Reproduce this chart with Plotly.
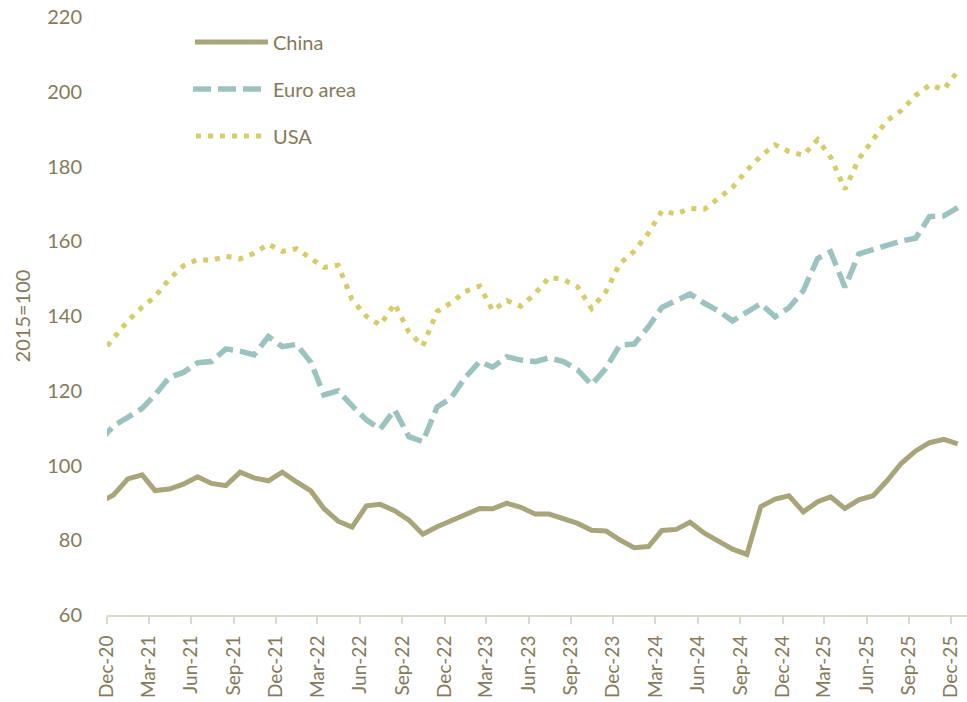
import pandas as pd
import plotly.graph_objects as go

# Monthly observations, Nov-20 .. Dec-25 (2015=100)
months = pd.date_range("2020-11-01", "2025-12-01", freq="MS")
china = [90.1,
         92.1, 96.4, 97.5, 93.3, 93.7, 95.0, 97.0, 95.2, 94.6, 98.2, 96.7, 95.9,
         98.2, 95.6, 93.2, 88.5, 85.1, 83.5, 89.2, 89.6, 87.9, 85.4, 81.6, 83.6,
         85.2, 87.0, 88.5, 88.4, 89.9, 88.8, 87.0, 87.0, 85.9, 84.5, 82.7, 82.5,
         80.1, 78.0, 78.3, 82.6, 82.9, 84.8, 81.9, 79.8, 77.6, 76.2, 89.0, 91.0,
         91.9, 87.6, 90.3, 91.6, 88.5, 90.8, 91.9, 95.9, 100.6, 103.9, 106.1, 107.0,
         105.8]
euro_area = [106.5,
             110.6, 112.9, 115.3, 118.9, 123.6, 124.9, 127.5, 127.8, 131.2, 130.6, 129.6, 134.5,
             131.8, 132.4, 127.6, 118.9, 120.0, 116.0, 112.2, 109.7, 114.9, 107.7, 106.4, 115.7,
             118.0, 123.6, 127.8, 126.3, 129.1, 128.2, 127.8, 128.8, 127.8, 125.6, 121.6, 126.0,
             132.2, 132.5, 137.1, 142.3, 144.1, 145.9, 143.4, 141.4, 138.7, 141.1, 143.3, 139.8,
             142.2, 146.8, 155.4, 157.2, 147.7, 156.6, 157.8, 158.8, 160.1, 160.8, 166.6, 166.8,
             169.0]
usa = [129.5,
       134.2, 138.7, 142.4, 145.2, 149.9, 153.4, 155.1, 154.9, 156.0, 155.3, 156.8, 159.2,
       157.3, 158.0, 155.4, 153.0, 153.6, 144.4, 139.9, 137.6, 143.3, 135.7, 132.0, 141.2,
       143.5, 146.6, 148.0, 141.5, 144.1, 142.6, 146.0, 150.3, 149.8, 147.8, 142.0, 146.5,
       154.0, 157.3, 162.2, 168.1, 167.3, 168.8, 168.6, 171.6, 174.4, 179.0, 182.8, 185.8,
       184.0, 183.0, 187.2, 182.5, 173.9, 182.0, 187.2, 192.3, 195.0, 199.0, 201.8, 200.6,
       205.5]
tick_labels = ["Dec-20", "Mar-21", "Jun-21", "Sep-21", "Dec-21", "Mar-22", "Jun-22",
               "Sep-22", "Dec-22", "Mar-23", "Jun-23", "Sep-23", "Dec-23", "Mar-24",
               "Jun-24", "Sep-24", "Dec-24", "Mar-25", "Jun-25", "Sep-25", "Dec-25"]
y_ticks = [60, 80, 100, 120, 140, 160, 180, 200, 220]

TEXT = "#857A5A"
C_CHINA = "#A9A57B"
C_EURO = "#9DC3C1"
C_USA = "#D6CC6A"
FONT = "Lato"

x = months + pd.Timedelta(days=14)  # mid-month positions
tickvals = pd.date_range("2020-12-01", "2025-12-01", freq="3MS")

fig = go.Figure()
fig.add_trace(go.Scatter(x=x, y=usa, mode="lines", name="USA",
                         line=dict(color=C_USA, width=5, dash="5px,7px")))
fig.add_trace(go.Scatter(x=x, y=euro_area, mode="lines", name="Euro area",
                         line=dict(color=C_EURO, width=5.5, dash="18px,7px")))
fig.add_trace(go.Scatter(x=x, y=china, mode="lines", name="China",
                         line=dict(color=C_CHINA, width=5)))

# Manual legend (long line samples like the original)
L, W, T, H = 107, 860, 17, 598
def px(v):
    return (v - L) / W
def py(v):
    return (T + H - v) / H
legend_items = [("China", C_CHINA, "solid", 5, 42, 195, 268),
                ("Euro area", C_EURO, "18px,7px", 5.5, 89, 193, 262),
                ("USA", C_USA, "5px,7px", 5, 136, 196, 262)]
for name, col, dash, w, yy, x0, x1 in legend_items:
    fig.add_shape(type="line", xref="paper", yref="paper",
                  x0=px(x0), x1=px(x1), y0=py(yy), y1=py(yy),
                  line=dict(color=col, width=w, dash=dash))
    fig.add_annotation(xref="paper", yref="paper", x=px(271), y=py(yy),
                       text=name, showarrow=False, xanchor="left", yanchor="middle",
                       font=dict(family=FONT, size=20, color=TEXT))

fig.update_layout(
    width=967, height=702,
    margin=dict(l=L, r=0, t=T, b=702 - T - H, autoexpand=False),
    paper_bgcolor="white", plot_bgcolor="white",
    showlegend=False,
    font=dict(family=FONT, size=20, color=TEXT),
)
fig.update_xaxes(
    type="date", range=["2020-12-01", "2026-01-04"],
    tickmode="array", tickvals=tickvals, ticktext=tick_labels,
    tickangle=-90, ticks="outside", ticklen=7, tickwidth=2, tickcolor="#DCD8CD",
    ticklabelstandoff=4, automargin=False,
    showline=True, linecolor="#DCD8CD", linewidth=2,
    showgrid=False, zeroline=False,
    tickfont=dict(family=FONT, size=19, color=TEXT),
)
fig.update_yaxes(
    range=[60, 220], tickmode="array", tickvals=y_ticks,
    showgrid=False, zeroline=False, showline=False, ticks="",
    ticklabelstandoff=24, automargin=False,
    tickfont=dict(family=FONT, size=20, color=TEXT),
    title=dict(text="2015=100", standoff=11, font=dict(family=FONT, size=20, color=TEXT)),
)

fig.write_html(
    "out.html",
    config={"displayModeBar": False},
    post_script="document.body.style.margin='0px';document.body.style.overflow='hidden';",
)
